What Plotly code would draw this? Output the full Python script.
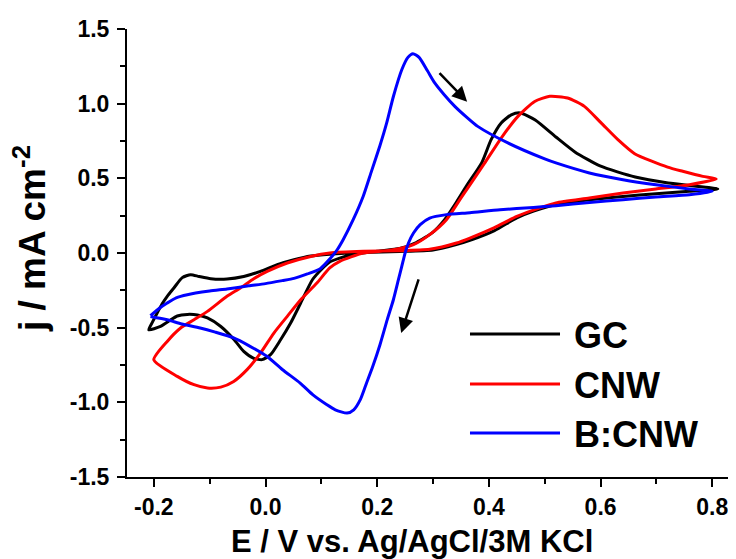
import plotly.graph_objects as go

# ---------------- data ----------------
gc_E = [-0.209, -0.202, -0.194, -0.185, -0.176, -0.164, -0.149, -0.134, -0.119, -0.098,
        -0.069, -0.039, -0.009, 0.021, 0.051, 0.081, 0.115, 0.175, 0.24, 0.30,
        0.34, 0.37, 0.41, 0.45, 0.48, 0.52, 0.58, 0.64, 0.699, 0.759, 0.81,
        0.721, 0.662, 0.599, 0.554, 0.52, 0.483, 0.456, 0.44, 0.422, 0.404, 0.387,
        0.36, 0.34, 0.32, 0.30, 0.27, 0.24, 0.20, 0.15, 0.115, 0.10, 0.084, 0.063,
        0.045, 0.027, 0.009, -0.006, -0.021, -0.039, -0.056, -0.080, -0.104, -0.122,
        -0.14, -0.158, -0.170, -0.188, -0.209]
gc_j = [-0.514, -0.46, -0.402, -0.34, -0.29, -0.234, -0.165, -0.145, -0.157, -0.172,
        -0.174, -0.157, -0.123, -0.078, -0.045, -0.02, -0.008, 0.004, 0.01, 0.02,
        0.055, 0.09, 0.15, 0.235, 0.28, 0.324, 0.357, 0.379, 0.397, 0.413, 0.429,
        0.469, 0.509, 0.583, 0.677, 0.777, 0.891, 0.938, 0.925, 0.871, 0.759, 0.603,
        0.45, 0.33, 0.22, 0.14, 0.07, 0.03, 0.012, -0.015, -0.06, -0.11, -0.179, -0.335,
        -0.469, -0.581, -0.681, -0.714, -0.705, -0.659, -0.581, -0.492, -0.435, -0.415,
        -0.411, -0.422, -0.449, -0.492, -0.514]

cnw_E = [-0.2, -0.176, -0.152, -0.128, -0.104, -0.069, -0.045, -0.021, 0.003, 0.039,
         0.081, 0.115, 0.175, 0.235, 0.294, 0.342, 0.366, 0.41, 0.45, 0.49, 0.52,
         0.58, 0.64, 0.699, 0.759, 0.807,
         0.783, 0.747, 0.72, 0.661, 0.631, 0.601, 0.571, 0.541, 0.509, 0.482, 0.452,
         0.422, 0.392, 0.363, 0.348, 0.324, 0.294, 0.265, 0.223, 0.175, 0.133, 0.115,
         0.092, 0.063, 0.039, 0.015, -0.009, -0.033, -0.057, -0.08, -0.104, -0.128,
         -0.158, -0.2]
cnw_j = [-0.715, -0.592, -0.502, -0.447, -0.391, -0.29, -0.234, -0.172, -0.123, -0.067,
         -0.023, 0.0, 0.011, 0.015, 0.025, 0.067, 0.1, 0.17, 0.245, 0.30, 0.335,
         0.368, 0.402, 0.429, 0.457, 0.496,
         0.513, 0.547, 0.575, 0.665, 0.759, 0.871, 0.982, 1.038, 1.049, 1.015, 0.915,
         0.77, 0.60, 0.44, 0.357, 0.223, 0.123, 0.056, 0.018, 0.0, -0.056, -0.10,
         -0.201, -0.313, -0.424, -0.536, -0.67, -0.781, -0.86, -0.898, -0.904, -0.882,
         -0.826, -0.715]

bcnw_E = [-0.206, -0.19, -0.176, -0.16, -0.14, -0.10, -0.069, -0.03, 0.0, 0.03, 0.051,
          0.075, 0.098, 0.115, 0.128, 0.139, 0.157, 0.175, 0.19, 0.205, 0.217, 0.229,
          0.244, 0.255, 0.264, 0.275, 0.29, 0.303, 0.32, 0.339, 0.36, 0.38, 0.434, 0.50,
          0.52, 0.58, 0.64, 0.699, 0.759, 0.80,
          0.759, 0.699, 0.64, 0.58, 0.52, 0.48, 0.42, 0.366, 0.324, 0.294, 0.277, 0.265,
          0.256, 0.25, 0.244, 0.238, 0.229, 0.218, 0.205, 0.192, 0.181, 0.170, 0.158,
          0.146, 0.125, 0.110, 0.085, 0.062, 0.03, 0.003, -0.03, -0.057, -0.09, -0.117,
          -0.15, -0.176, -0.206]
bcnw_j = [-0.42, -0.37, -0.335, -0.30, -0.279, -0.255, -0.241, -0.22, -0.205, -0.185, -0.17,
          -0.14, -0.105, -0.04, 0.02, 0.089, 0.223, 0.38, 0.55, 0.72, 0.871, 1.048,
          1.227, 1.31, 1.335, 1.31, 1.22, 1.139, 1.06, 0.982, 0.91, 0.848, 0.737, 0.63,
          0.603, 0.536, 0.491, 0.457, 0.429, 0.413,
          0.39, 0.375, 0.357, 0.339, 0.317, 0.305, 0.29, 0.27, 0.257, 0.234, 0.19, 0.134,
          0.067, 0.0, -0.09, -0.179, -0.313, -0.446, -0.614, -0.76, -0.87, -0.98, -1.05,
          -1.072, -1.05, -1.016, -0.95, -0.871, -0.78, -0.693, -0.62, -0.569, -0.53, -0.502,
          -0.475, -0.447, -0.425]

series_names = ["GC", "CNW", "B:CNW"]
series_colors = ["#000000", "#ff0000", "#0000ff"]
series_E = [gc_E, cnw_E, bcnw_E]
series_j = [gc_j, cnw_j, bcnw_j]

x_ticks = [-0.2, 0.0, 0.2, 0.4, 0.6, 0.8]
y_ticks = [-1.5, -1.0, -0.5, 0.0, 0.5, 1.0, 1.5]

# scan-direction arrows: (tail E, tail j, head E, head j)
arrows = [(0.309, 1.214, 0.361, 1.013), (0.275, -0.167, 0.243, -0.536)]

FONT = "Liberation Sans, Arial, sans-serif"

fig = go.Figure()
for name, col, E, j in zip(series_names, series_colors, series_E, series_j):
    fig.add_trace(go.Scatter(x=E, y=j, mode="lines", name=name,
                             line=dict(color=col, width=3, shape="spline", smoothing=0.6),
                             showlegend=False))

XR = [-0.248, 0.8568]
fig.update_layout(
    width=736, height=559,
    margin=dict(l=119, r=0, t=21, b=90),
    paper_bgcolor="white", plot_bgcolor="white",
    font=dict(family=FONT, color="black"),
    xaxis=dict(range=XR, tickvals=x_ticks,
               ticktext=["<b>%.1f</b>" % v for v in x_ticks],
               ticks="outside", ticklen=8, tickwidth=2, tickcolor="black",
               showline=True, linewidth=2, linecolor="black", mirror=False,
               showgrid=False, zeroline=False,
               tickfont=dict(family=FONT, size=23, color="black"),
               ticklabelstandoff=0,
               minor=dict(dtick=0.1, tick0=0, ticks="outside", ticklen=5, tickwidth=2,
                          tickcolor="black", showgrid=False)),
    xaxis2=dict(range=XR, matches="x", overlaying="x", side="top",
                anchor="y", showline=True, linewidth=2, linecolor="black",
                ticks="inside", ticklen=4, tickwidth=2, tickcolor="black",
                dtick=0.1, tick0=0, showticklabels=False, showgrid=False, zeroline=False),
    yaxis=dict(range=[-1.5, 1.5], tickvals=y_ticks,
               ticktext=["<b>%.1f</b>" % v for v in y_ticks],
               ticks="outside", ticklen=8, tickwidth=2, tickcolor="black",
               showline=True, linewidth=2, linecolor="black", mirror=False,
               showgrid=False, zeroline=False,
               tickfont=dict(family=FONT, size=23, color="black"),
               ticklabelstandoff=3,
               minor=dict(dtick=0.25, tick0=0, ticks="outside", ticklen=5, tickwidth=2,
                          tickcolor="black", showgrid=False)),
)

# axis titles
fig.add_annotation(text="<b>E / V vs. Ag/AgCl/3M KCl</b>", xref="paper", yref="paper",
                   x=0.4619, y=-0.143, xanchor="center", yanchor="middle", showarrow=False,
                   font=dict(family=FONT, size=31))
fig.add_annotation(text="<b>j / mA cm<sup>-2</sup></b>", xref="paper", yref="paper",
                   x=-0.1572, y=0.531, xanchor="center", yanchor="middle", showarrow=False,
                   textangle=-90, font=dict(family=FONT, size=37))

# arrows
for (xt, yt, xh, yh) in arrows:
    fig.add_annotation(x=xh, y=yh, ax=xt, ay=yt, xref="x", yref="y", axref="x", ayref="y",
                       showarrow=True, arrowhead=2, arrowsize=1.2, arrowwidth=2.5,
                       arrowcolor="black", text="")

# legend drawn as sample lines + labels
leg_y = [0.319, 0.2076, 0.0982]
for name, col, yy in zip(series_names, series_colors, leg_y):
    fig.add_shape(type="line", xref="paper", yref="paper", x0=0.5559, x1=0.7018,
                  y0=yy, y1=yy, line=dict(color=col, width=3))
    fig.add_annotation(text="<b>%s</b>" % name, xref="paper", yref="paper", x=0.7212,
                       y=yy - 0.003, xanchor="left", yanchor="middle", showarrow=False,
                       font=dict(family=FONT, size=36))

fig.write_html("out.html")
